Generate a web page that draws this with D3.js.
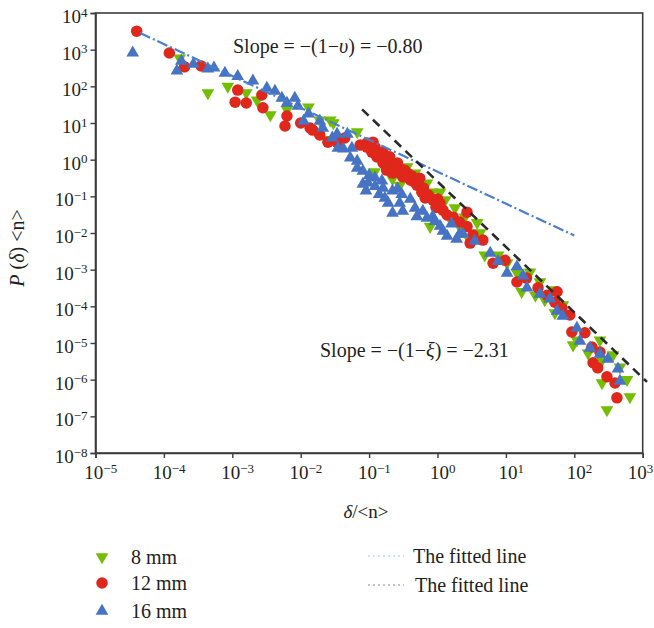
<!DOCTYPE html>
<html>
<head>
<meta charset="utf-8">
<script src="https://cdn.jsdelivr.net/npm/d3@7"></script>
<style>
  body { margin: 0; background: #fff; }
  svg text { font-family: "Liberation Serif", "DejaVu Serif", serif; fill: #231f20; }
</style>
</head>
<body>
<div id="chart"></div>
<script>
const width = 654, height = 628;

// data: [delta/<n>, P(delta)<n>]
const mm8 = [
  [1.7e-4, 590], [4.4e-4, 66], [8.6e-4, 100], [1.6e-3, 66], [2.3e-3, 42], [3.6e-3, 16.5],
  [6.3e-3, 23], [1.3e-2, 27], [1.9e-2, 12], [2.7e-2, 12], [3e-2, 10], [2.6e-2, 3.5],
  [6.7e-2, 5.7], [0.12, 0.46], [0.15, 0.9], [0.22, 0.3], [0.28, 0.2], [0.36, 0.63], [0.47, 0.43],
  [0.55, 0.17], [0.7, 0.23], [0.83, 0.13], [0.95, 0.07], [1.09, 0.13], [1.3, 0.08], [0.78, 0.015],
  [1.5, 0.026], [1.8, 0.048], [2.1, 0.015], [2.5, 0.027], [3.0, 0.006], [3.8, 0.019], [4.2, 0.01],
  [4.9, 0.0025], [7.7, 0.0025], [10.4, 0.0015], [14.5, 8.1e-4], [17, 2.5e-4], [22.5, 8.6e-4],
  [27, 2.0e-4], [31.5, 4.6e-4], [37, 1.5e-4], [49, 2.8e-4], [52, 6.6e-5], [62, 9.6e-5],
  [68, 1.1e-4], [96, 8.8e-6], [109, 1.2e-5], [159, 5.3e-6], [237, 1.2e-5], [254, 3.4e-6],
  [254, 8.1e-7], [300, 1.5e-7], [368, 4.7e-6], [465, 2.2e-6], [590, 1e-6], [650, 3.4e-7]
];
const mm12 = [
  [4e-5, 3200], [1.2e-4, 810], [2e-4, 340], [3.5e-4, 360], [1.2e-3, 79], [1.1e-3, 37],
  [1.6e-3, 35], [2.8e-3, 26], [2.7e-3, 58], [6.3e-3, 15.5], [5.9e-3, 8.3], [1e-2, 10],
  [1.37e-2, 7.3], [1.5e-2, 6.4], [1.9e-2, 4.7], [2.5e-2, 3.0], [3.4e-2, 3.0], [4.4e-2, 3.9],
  [7.4e-2, 2.5], [9.3e-2, 2.85], [9.3e-2, 2.2], [0.114, 3.0], [0.11, 1.6], [0.122, 2.2],
  [0.13, 1.18], [0.14, 1.4], [0.16, 1.6], [0.16, 0.81], [0.18, 0.52], [0.19, 0.9], [0.2, 1.2],
  [0.24, 0.6], [0.26, 0.81], [0.22, 0.43], [0.28, 0.45], [0.31, 0.34], [0.33, 0.52],
  [0.37, 0.42], [0.4, 0.28], [0.42, 0.36], [0.45, 0.25], [0.5, 0.2], [0.55, 0.31], [0.62, 0.17],
  [0.59, 0.13], [0.66, 0.09], [0.73, 0.11], [0.86, 0.079], [0.95, 0.05], [1.0, 0.085],
  [1.09, 0.066], [1.2, 0.042], [1.38, 0.031], [1.7, 0.027], [2.1, 0.02], [2.7, 0.037],
  [2.7, 0.015], [3.3, 0.0088], [3.0, 0.0053], [4.6, 0.0064], [6.5, 0.0015], [9.7, 0.0018],
  [14.5, 4.6e-4], [20, 5.9e-4], [29.5, 3.2e-4], [40, 2.0e-4], [52, 1.3e-4], [56, 2.5e-4],
  [66, 9.0e-5], [86, 5.8e-5], [92, 2.0e-5], [143, 1.9e-5], [181, 7.8e-6], [237, 5.7e-6],
  [188, 2.9e-6], [220, 2.1e-6], [300, 1.2e-6], [394, 8.1e-7], [420, 3.2e-7]
];
const mm16 = [
  [3.5e-5, 870], [1.55e-4, 280], [1.8e-4, 520], [2.7e-4, 430], [4.4e-4, 320], [5.4e-4, 340],
  [7.8e-4, 245], [1.2e-3, 200], [2e-3, 150], [3.2e-3, 96], [4.2e-3, 79], [5.3e-3, 51],
  [8.2e-3, 51], [6.3e-3, 37], [9.1e-3, 31], [1.3e-2, 19], [1.1e-2, 12], [1.9e-2, 12],
  [2.1e-2, 7.8], [2.9e-2, 4.2], [3.4e-2, 5.3], [3.5e-2, 2.2], [4.2e-2, 2.1], [4.8e-2, 5.3],
  [5.6e-2, 2.2], [5.3e-2, 1.2], [6.7e-2, 0.98], [6.7e-2, 0.63], [8.1e-2, 0.23], [8.1e-2, 0.52],
  [9e-2, 0.15], [9.6e-2, 0.25], [0.1, 0.4], [0.122, 0.34], [0.122, 0.2], [0.14, 0.12],
  [0.154, 0.28], [0.16, 0.18], [0.17, 0.096], [0.19, 0.07], [0.22, 0.15], [0.26, 0.17],
  [0.3, 0.12], [0.28, 0.07], [0.4, 0.09], [0.22, 0.037], [0.31, 0.042], [0.47, 0.051],
  [0.5, 0.03], [0.61, 0.042], [0.7, 0.027], [0.85, 0.03], [0.92, 0.022], [1.09, 0.0165],
  [1.2, 0.012], [1.6, 0.019], [2.1, 0.01], [2.36, 0.01], [3.5, 0.0064], [1.38, 0.0088],
  [1.9, 0.0073], [5.9, 0.003], [7.7, 0.0018], [10.4, 8.6e-4], [14.5, 0.0013], [17.8, 7.2e-4],
  [20.3, 3.4e-4], [31.5, 2.3e-4], [44, 1.7e-4], [56, 7.9e-5], [68, 5.8e-5], [109, 2.7e-5],
  [121, 1.2e-5], [170, 7.8e-6], [237, 5.3e-6], [310, 3.9e-6], [435, 2.1e-6], [465, 9.8e-7]
];

// fitted lines, end points
const fitLow = [[4.5e-5, 2850], [100, 0.0085]];
const fitHigh = [[7.9e-2, 23.5], [1155, 8.7e-7]];

const xTicks = [1e-5, 1e-4, 1e-3, 1e-2, 1e-1, 1, 1e1, 1e2, 1e3];
const yTicks = [1e-8, 1e-7, 1e-6, 1e-5, 1e-4, 1e-3, 1e-2, 1e-1, 1, 1e1, 1e2, 1e3, 1e4];

const legendItems = ["8 mm", "12 mm", "16 mm"];
const lineLegend = ["The fitted line", "The fitted line"];

const green = "#72bf00", red = "#e0271c", blue = "#4673c3";

const svg = d3.select("#chart").append("svg")
              .attr("width", width)
              .attr("height", height);

const x = d3.scaleLog().domain([1e-5, 1e3]).range([95.5, 642.7]);
const y = d3.scaleLog().domain([1e-8, 1e4]).range([453, 13]);

const expLabel = (sel, v) => {
    const e = Math.round(Math.log10(v));
    sel.text(null);
    sel.append("tspan").text("10");
    sel.append("tspan")
       .attr("dy", "-0.5em")
       .style("font-size", "13px")
       .text(String(e).replace("-", "\u2212"));
};

// frame
svg.append("rect")
   .attr("x", x.range()[0])
   .attr("y", y.range()[1])
   .attr("width", x.range()[1] - x.range()[0])
   .attr("height", y.range()[0] - y.range()[1])
   .attr("fill", "none")
   .attr("stroke", "#3c3c3c")
   .attr("stroke-width", 1.6);

const xAxis = svg.append("g")
                 .attr("transform", `translate(0, ${y.range()[0]})`)
                 .call(d3.axisBottom(x).tickValues(xTicks).tickSize(5).tickPadding(8));
xAxis.selectAll(".tick text").each(function(d) { expLabel(d3.select(this), d); })
     .style("font-size", "19px").attr("fill", "#231f20").attr("dx", "0.25em");
// last label would run past the right edge
xAxis.selectAll(".tick text").filter(d => d === 1e3)
     .attr("text-anchor", "end").attr("x", 10).attr("dx", 0);

const yAxis = svg.append("g")
                 .attr("transform", `translate(${x.range()[0]}, 0)`)
                 .call(d3.axisLeft(y).tickValues(yTicks).tickSize(5).tickPadding(3));
yAxis.selectAll(".tick text").each(function(d) { expLabel(d3.select(this), d); })
     .style("font-size", "19px").attr("fill", "#231f20").attr("dy", "0.5em");

[xAxis, yAxis].forEach(a => {
    a.select(".domain").attr("stroke", "#3c3c3c").attr("stroke-width", 1.6);
    a.selectAll(".tick line").attr("stroke", "#3c3c3c").attr("stroke-width", 1.4);
});

// axis titles
const xTitle = svg.append("text")
                  .attr("x", 366)
                  .attr("y", 518)
                  .attr("text-anchor", "middle")
                  .style("font-size", "19px");
xTitle.append("tspan").style("font-style", "italic").text("δ");
xTitle.append("tspan").text("/<n>");

const yTitle = svg.append("text")
                  .attr("transform", "translate(24, 248) rotate(-90)")
                  .attr("text-anchor", "middle")
                  .style("font-size", "20px");
yTitle.append("tspan").style("font-style", "italic").text("P");
yTitle.append("tspan").text(" (");
yTitle.append("tspan").style("font-style", "italic").text("δ");
yTitle.append("tspan").text(") <n>");

// points
const tri = d3.symbol().type(d3.symbolTriangle).size(70);
const circ = d3.symbol().type(d3.symbolCircle).size(104);

const plot = svg.append("g");

plot.selectAll("path.g8")
    .data(mm8)
    .join("path")
    .attr("class", "g8")
    .attr("d", tri)
    .attr("transform", d => `translate(${x(d[0])}, ${y(d[1])}) rotate(180)`)
    .attr("fill", green);

plot.selectAll("path.r12")
    .data(mm12)
    .join("path")
    .attr("class", "r12")
    .attr("d", circ)
    .attr("transform", d => `translate(${x(d[0])}, ${y(d[1])})`)
    .attr("fill", red);

plot.selectAll("path.b16")
    .data(mm16)
    .join("path")
    .attr("class", "b16")
    .attr("d", tri)
    .attr("transform", d => `translate(${x(d[0])}, ${y(d[1]) + 1})`)
    .attr("fill", blue);

// fitted lines
const line = d3.line().x(d => x(d[0])).y(d => y(d[1]));

svg.append("path")
   .datum(fitLow)
   .attr("d", line)
   .attr("fill", "none")
   .attr("stroke", "#4a7fd0")
   .attr("stroke-width", 2.2)
   .attr("stroke-dasharray", "11,3,2,3");

svg.append("path")
   .datum(fitHigh)
   .attr("d", line)
   .attr("fill", "none")
   .attr("stroke", "#2a2a2a")
   .attr("stroke-width", 2.6)
   .attr("stroke-dasharray", "9,6");

// annotations
const note1 = svg.append("text").attr("x", 233).attr("y", 53).style("font-size", "20px");
note1.append("tspan").text("Slope = \u2212(1\u2212");
note1.append("tspan").style("font-style", "italic").text("υ");
note1.append("tspan").text(") = \u22120.80");

const note2 = svg.append("text").attr("x", 320).attr("y", 357).style("font-size", "20px");
note2.append("tspan").text("Slope = \u2212(1\u2212");
note2.append("tspan").style("font-style", "italic").text("ξ");
note2.append("tspan").text(") = \u22122.31");

// legend
const legend = svg.append("g");
const legendRowY = [557, 583, 611];
const legendSymbols = [
    { shape: tri, rot: 180, color: green },
    { shape: circ, rot: 0, color: red },
    { shape: tri, rot: 0, color: blue }
];

legend.selectAll("path")
      .data(legendItems)
      .join("path")
      .attr("d", (d, i) => legendSymbols[i].shape())
      .attr("transform", (d, i) => `translate(102, ${legendRowY[i]}) rotate(${legendSymbols[i].rot})`)
      .attr("fill", (d, i) => legendSymbols[i].color);

legend.selectAll("text")
      .data(legendItems)
      .join("text")
      .attr("x", 131)
      .attr("y", (d, i) => legendRowY[i] + 7)
      .style("font-size", "20px")
      .text(d => d);

const lineRowY = [556, 585];
const lineColors = ["#8fcdee", "#8a8a8a"];

svg.selectAll("line.leg")
   .data(lineLegend)
   .join("line")
   .attr("class", "leg")
   .attr("x1", 368)
   .attr("x2", 404)
   .attr("y1", (d, i) => lineRowY[i])
   .attr("y2", (d, i) => lineRowY[i])
   .attr("stroke", (d, i) => lineColors[i])
   .attr("stroke-width", 1.2)
   .attr("stroke-dasharray", "2,3");

svg.selectAll("text.leg")
   .data(lineLegend)
   .join("text")
   .attr("class", "leg")
   .attr("x", (d, i) => 413 + i * 2)
   .attr("y", (d, i) => lineRowY[i] + 7)
   .style("font-size", "20px")
   .text(d => d);
</script>
</body>
</html>
